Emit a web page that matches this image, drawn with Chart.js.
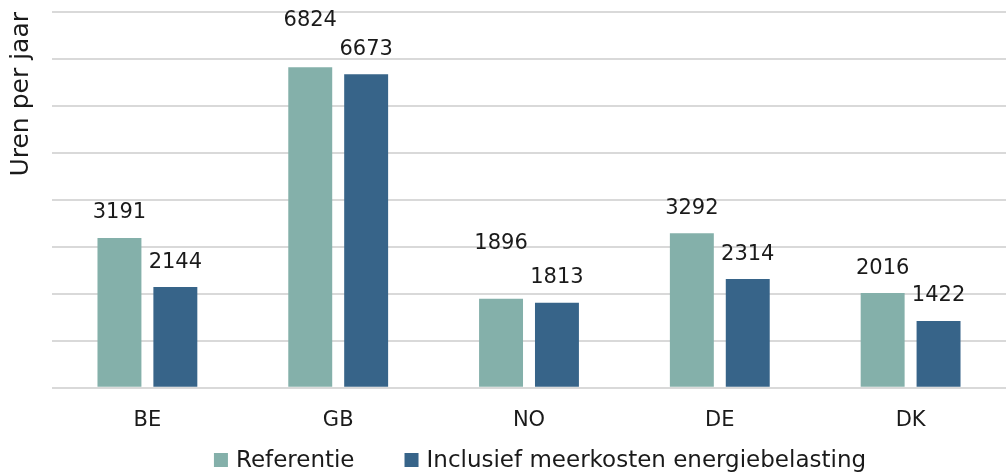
<!DOCTYPE html>
<html>
<head>
<meta charset="utf-8">
<script src="https://cdn.jsdelivr.net/npm/chart.js@4"></script>
<style>
  body { margin: 0; background: #fff; }
  #wrap { width: 1006px; height: 475px; }
</style>
</head>
<body>
<div id="wrap"><canvas id="myChart" width="1006" height="475"></canvas></div>
<script>
const landen = ["BE", "GB", "NO", "DE", "DK"]
const referentie = [3191, 6824, 1896, 3292, 2016]
const inclusief = [2144, 6673, 1813, 2314, 1422]
const yMax = 8000
const yStap = 1000

// extra lift for labels that sit higher in the original
const liftRef = [0, 22, 30, 0, 0]
const liftIncl = [0, 0, 0, 0, 0]

const fontFam = "'DejaVu Sans', sans-serif"
const tekstKleur = '#1a1a1a'

const labelPlugin = {
    id: 'waardeLabels',
    afterDatasetsDraw(chart) {
        const ctx = chart.ctx
        const lifts = [liftRef, liftIncl]
        ctx.save()
        ctx.font = "21px " + fontFam
        ctx.fillStyle = tekstKleur
        ctx.textAlign = 'center'
        ctx.textBaseline = 'middle'
        chart.data.datasets.forEach(function (ds, i) {
            const meta = chart.getDatasetMeta(i)
            meta.data.forEach(function (bar, j) {
                ctx.fillText(String(ds.data[j]), bar.x, bar.y - 25 - lifts[i][j])
            })
        })
        ctx.restore()
    }
}

// own legend, so the gap between the items can be wide without eating height
const legendePlugin = {
    id: 'legende',
    afterDraw(chart) {
        const ctx = chart.ctx
        const box = 14
        const gap = 8
        const tussen = 50
        const y = 460
        ctx.save()
        ctx.font = "23px " + fontFam
        ctx.textBaseline = 'middle'
        const items = chart.data.datasets.map(function (ds) {
            return { tekst: ds.label, kleur: ds.backgroundColor, w: box + gap + ctx.measureText(ds.label).width }
        })
        let totaal = tussen * (items.length - 1)
        items.forEach(function (it) { totaal += it.w })
        let x = 540 - totaal / 2
        items.forEach(function (it) {
            ctx.fillStyle = it.kleur
            ctx.fillRect(x, y - box / 2, box, box)
            ctx.fillStyle = tekstKleur
            ctx.fillText(it.tekst, x + box + gap, y + 1)
            x += it.w + tussen
        })
        ctx.restore()
    }
}

new Chart("myChart", {
    type: "bar",
    data: {
        labels: landen,
        datasets: [{
            label: "Referentie",
            data: referentie,
            backgroundColor: '#84B0AA'
        }, {
            label: "Inclusief meerkosten energiebelasting",
            data: inclusief,
            backgroundColor: '#376489'
        }]
    },
    options: {
        responsive: false,
        animation: false,
        categoryPercentage: 0.586,
        barPercentage: 0.786,
        layout: {
            padding: { top: 12, right: 0, left: 3, bottom: 30 }
        },
        scales: {
            y: {
                min: 0,
                max: yMax,
                ticks: { display: false, stepSize: yStap },
                grid: { color: '#d9d9d9', lineWidth: 2, drawTicks: false },
                border: { display: false },
                title: {
                    display: true,
                    text: "Uren per jaar",
                    align: 'end',
                    color: tekstKleur,
                    font: { size: 25, family: fontFam },
                    padding: { top: 3, bottom: 16 }
                }
            },
            x: {
                grid: { display: false },
                border: { display: false },
                ticks: {
                    color: tekstKleur,
                    font: { size: 21, family: fontFam },
                    padding: 12
                }
            }
        },
        plugins: {
            legend: { display: false },
            tooltip: { enabled: false }
        }
    },
    plugins: [labelPlugin, legendePlugin]
});
</script>
</body>
</html>
